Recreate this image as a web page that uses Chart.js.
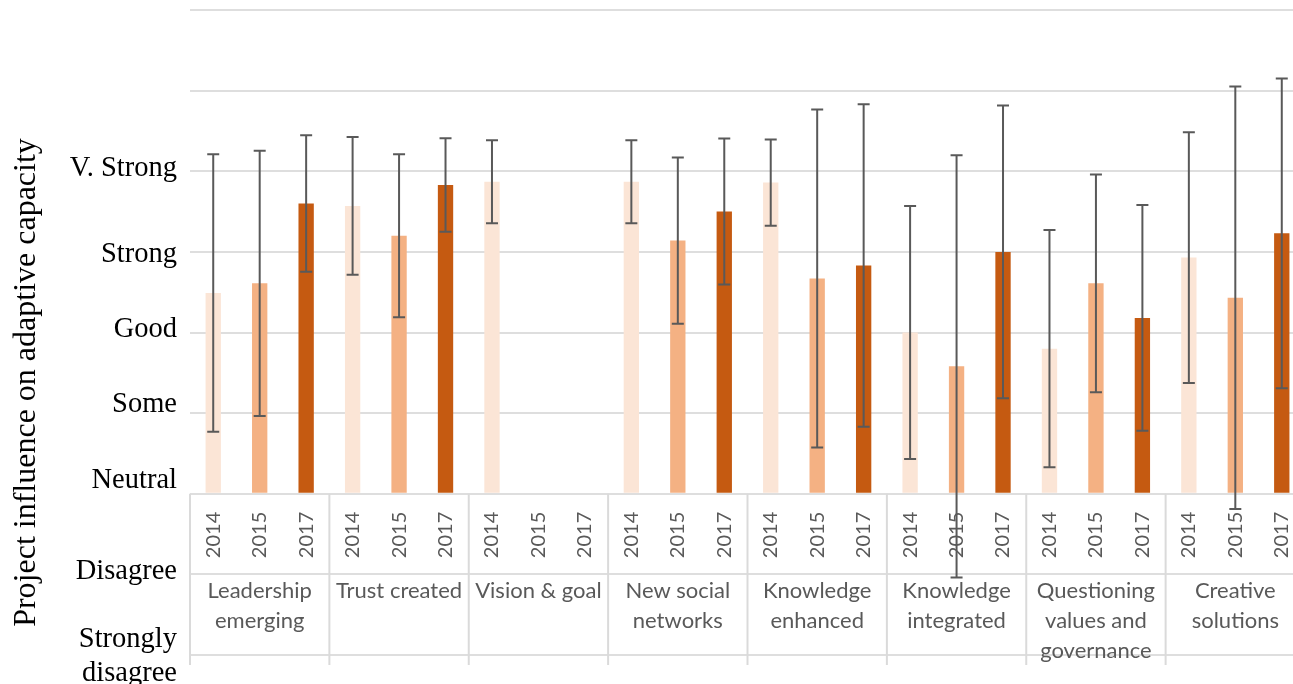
<!DOCTYPE html>
<html>
<head>
<meta charset="utf-8">
<script src="https://cdn.jsdelivr.net/npm/chart.js@4.4.1/dist/chart.umd.min.js"></script>
<style>
html, body { margin: 0; padding: 0; background: #fff; overflow: hidden; }
#wrap { width: 1305px; height: 684px; }
</style>
</head>
<body>
<div id="wrap"><canvas id="chart"></canvas></div>
<script>
// groups along the bottom, years inside each group
const groups = [
  ["Leadership", "emerging"], "Trust created", "Vision & goal", ["New social", "networks"],
  ["Knowledge", "enhanced"], ["Knowledge", "integrated"], ["Questioning", "values and", "governance"],
  ["Creative", "solutions"]
];
const years = ["2014", "2015", "2017"];

// mean scores (0 = Neutral ... 4 = V. Strong) and error bar half-lengths
const v2014 = [2.49, 3.57, 3.87, 3.87, 3.86, 2.00, 1.80, 2.93];
const e2014 = [1.72, 0.855, 0.515, 0.515, 0.535, 1.57, 1.47, 1.555];
const v2015 = [2.61, 3.20, null, 3.14, 2.67, 1.58, 2.61, 2.43];
const e2015 = [1.645, 1.01, null, 1.03, 2.095, 2.62, 1.35, 2.62];
const v2017 = [3.60, 3.83, null, 3.50, 2.83, 3.00, 2.18, 3.23];
const e2017 = [0.845, 0.58, null, 0.905, 2.0, 1.815, 1.40, 1.92];

// y axis wording and where each word sits on the scale
const yTickValues = [4.03, 2.97, 2.04, 1.11, 0.17, -0.96, -2.02];
const yTickLabels = ["V. Strong", "Strong", "Good", "Some", "Neutral", "Disagree", ["Strongly", "disagree"]];
const yTitle = "Project influence on adaptive capacity";

const colors = ["#fbe5d6", "#f4b183", "#c55a11"];

// one slot per group/year pair
let slotLabels = [];
groups.forEach(() => years.forEach(y => slotLabels.push(y)));

function spread(vals, j){
  let out = [];
  vals.forEach(v => { for (let k = 0; k < years.length; k++) out.push(k === j ? v : null); });
  return out;
}

const values = [v2014, v2015, v2017];
const errs = [e2014, e2015, e2017];

const datasets = years.map((yr, j) => ({
  label: yr,
  data: spread(values[j], j),
  errors: spread(errs[j], j),
  backgroundColor: colors[j],
  grouped: false,
  categoryPercentage: 1,
  barPercentage: 0.33
}));

/* error bars */
const errorBars = {
  id: 'errorBars',
  afterDatasetsDraw(chart){
    const ctx = chart.ctx, y = chart.scales.y;
    ctx.save();
    ctx.strokeStyle = '#595959';
    ctx.lineWidth = 2;
    chart.data.datasets.forEach((ds, i) => {
      const meta = chart.getDatasetMeta(i);
      ds.errors.forEach((e, k) => {
        const v = ds.data[k];
        if (v === null || e === null) return;
        const x = meta.data[k].x;
        const top = y.getPixelForValue(v + e);
        const bot = y.getPixelForValue(v - e);
        ctx.beginPath();
        ctx.moveTo(x, top); ctx.lineTo(x, bot);
        ctx.moveTo(x - 6, top); ctx.lineTo(x + 6, top);
        ctx.moveTo(x - 6, bot); ctx.lineTo(x + 6, bot);
        ctx.stroke();
      });
    });
    ctx.restore();
  }
};

/* group separators in the label box + rotated title */
const frame = {
  id: 'frame',
  beforeDatasetsDraw(chart){
    const ctx = chart.ctx, x = chart.scales.x, y = chart.scales.y;
    const y0 = y.getPixelForValue(0), y1 = y.getPixelForValue(-2) + 10;
    ctx.save();
    ctx.strokeStyle = '#dadada';
    ctx.lineWidth = 2;
    for (let g = 0; g <= groups.length; g++){
      const px = x.getPixelForValue(g * years.length - 0.5);
      ctx.beginPath(); ctx.moveTo(px, y0); ctx.lineTo(px, y1); ctx.stroke();
    }
    ctx.restore();
  },
  afterDraw(chart){
    const ctx = chart.ctx, ca = chart.chartArea;
    ctx.save();
    ctx.translate(35, (ca.top + ca.bottom) / 2 + 50);
    ctx.rotate(-Math.PI / 2);
    ctx.font = '32px "Liberation Serif"';
    ctx.fillStyle = '#000';
    ctx.textAlign = 'center';
    ctx.textBaseline = 'alphabetic';
    ctx.fillText(yTitle, 0, 0);
    ctx.restore();
  }
};

function noPad(s){ s.paddingLeft = 0; s.paddingRight = 0; s.paddingTop = 0; s.paddingBottom = 0; }

let ctx = document.getElementById("chart").getContext("2d");

new Chart(ctx, {
  type: 'bar',
  data: { labels: slotLabels, datasets: datasets },
  options: {
    responsive: true,
    maintainAspectRatio: false,
    animation: false,
    layout: { padding: { top: 10, bottom: 29, left: 0, right: 0 } },
    plugins: { legend: { display: false }, tooltip: { enabled: false } },
    scales: {
      x: {
        type: 'category',
        position: { y: 0 },
        offset: true,
        grid: { display: false },
        border: { display: false },
        ticks: { color: '#595959', font: { family: 'Lato', size: 20 }, minRotation: 90, maxRotation: 90, autoSkip: false, padding: 10 },
        afterFit: noPad
      },
      x2: {
        type: 'category',
        labels: groups,
        position: { y: -1 },
        offset: true,
        grid: { display: false },
        border: { display: false },
        ticks: { color: '#595959', font: { family: 'Lato', size: 22, lineHeight: 1.36 }, minRotation: 0, maxRotation: 0, autoSkip: false, padding: -6 },
        afterFit: noPad
      },
      y: {
        min: -2, max: 6,
        ticks: { display: false, stepSize: 1 },
        grid: { color: '#dedede', lineWidth: 2, drawTicks: false },
        border: { display: false },
        afterFit(s){ s.width = 0; noPad(s); }
      },
      yl: {
        type: 'linear',
        position: 'left',
        min: -2, max: 6,
        afterBuildTicks(s){ s.ticks = yTickValues.map(v => ({ value: v })); },
        ticks: {
          callback: (v, i) => yTickLabels[i],
          color: '#000',
          font: { family: 'Liberation Serif', size: 28.5, lineHeight: 1.2 },
          padding: 13,
          autoSkip: false
        },
        grid: { display: false, drawTicks: false },
        border: { display: false },
        afterFit(s){ s.width = 190; noPad(s); }
      }
    }
  },
  plugins: [errorBars, frame]
});
</script>
</body>
</html>
